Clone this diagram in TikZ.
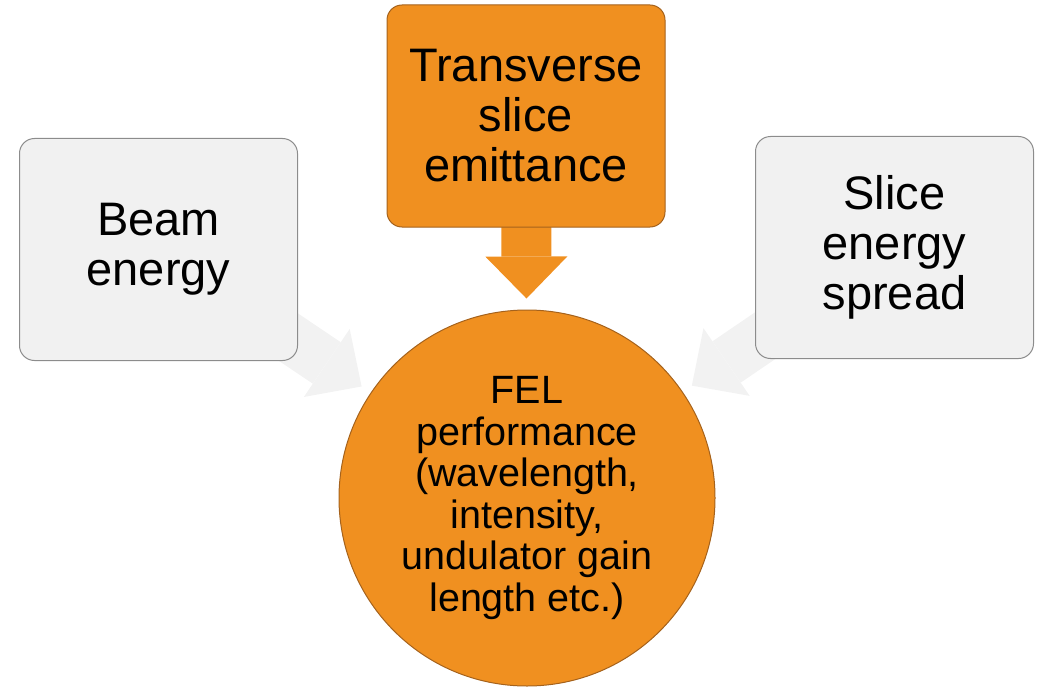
\documentclass[tikz,border=0pt]{standalone}
\usepackage{fontspec}
\setmainfont{Liberation Sans}
\usetikzlibrary{arrows.meta, backgrounds}

\definecolor{felorange}{RGB}{240,144,32}
\definecolor{feledge}{RGB}{165,98,28}
\definecolor{boxgrey}{RGB}{241,241,241}
\definecolor{boxedge}{RGB}{140,140,140}
\definecolor{arrowgrey}{RGB}{242,242,242}

\begin{document}
\begin{tikzpicture}[x = 1pt, y = -1pt, % one unit is one pixel, y runs downwards
                line width = 1pt % line style
            ]

            \tikzstyle{input}=[draw = boxedge, fill = boxgrey, rounded corners = 15pt,
            minimum width = 278pt, minimum height = 222pt, align = center,
            font = \fontsize{47}{50}\selectfont]
            \tikzstyle{key input}=[input, draw = feledge, fill = felorange]
            \tikzstyle{result}=[draw = feledge, fill = felorange, circle, inner sep = 0pt,
            minimum size = 376pt, align = center, font = \fontsize{39.5}{41.5}\selectfont]
            \tikzstyle{flow}=[line width = 50pt, shorten > = 11pt,
            -{Triangle[length = 42pt, width = 82pt, line width = 0pt]}]

            \useasboundingbox (0,0) rectangle (1040,687);

            \node[result] (fel) at (527,498) {FEL\\performance\\(wavelength,\\intensity,\\undulator gain\\length etc.)};
            \node[input] (beam) at (158.5,249.5) {Beam\\energy};
            \node[key input] (emit) at (526,116) {Transverse\\slice\\emittance};
            \node[input] (spread) at (894.5,247.5) {Slice\\energy\\spread};

            \begin{pgfonlayer}{background}
            \draw[flow, arrowgrey] (beam.center) -- (fel); \draw[flow, arrowgrey]
            (spread.center) -- (fel); \draw[flow, felorange] (emit.center) -- (fel);
            \end{pgfonlayer}
\end{tikzpicture}
\end{document}
